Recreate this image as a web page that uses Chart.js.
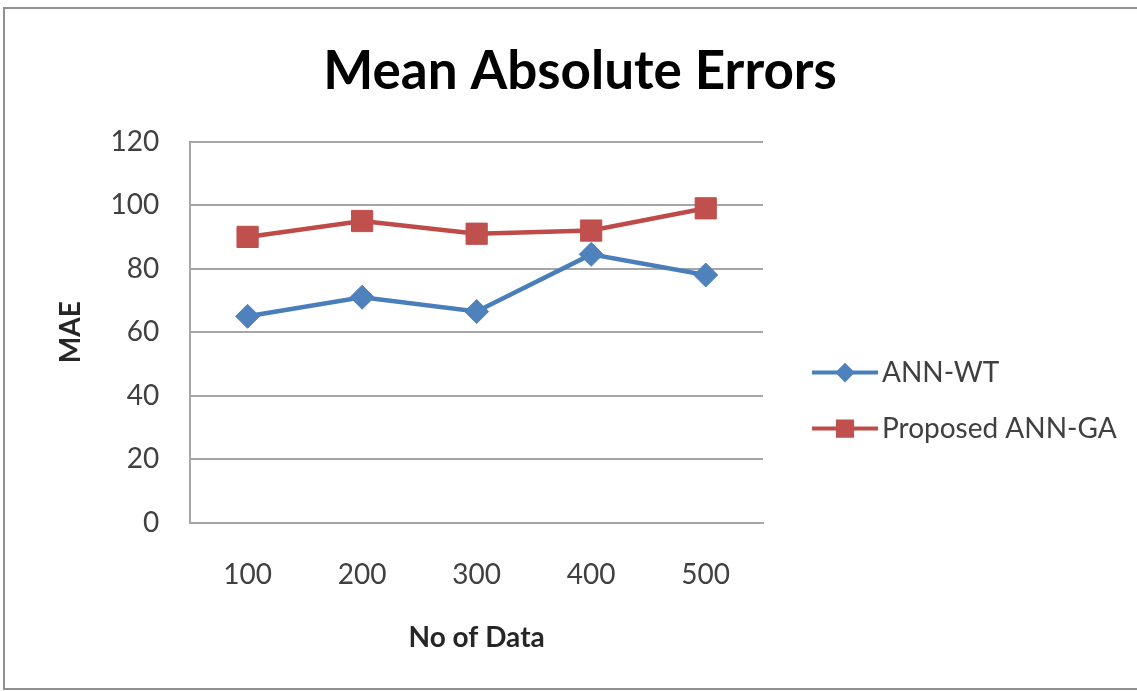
<!DOCTYPE html>
<html>
<head>
<meta charset="utf-8">
<script src="https://cdn.jsdelivr.net/npm/chart.js@4"></script>
<style>
  html, body { margin: 0; padding: 0; background: #fff; overflow: hidden; }
  #wrap { position: relative; width: 1137px; height: 691px; }
  #frame { position: absolute; left: 3px; top: 7px; width: 1200px; height: 679px; border: 2px solid #909090; }
  #grafico { position: absolute; left: 0; top: 0; }
</style>
</head>
<body>
<div id="wrap">
  <div id="frame"></div>
  <canvas id="grafico" width="1137" height="691"></canvas>
</div>
<script>
// Datos
const categorias = ['100', '200', '300', '400', '500'];
const annWT = [65, 71, 66.5, 84.5, 78];
const annGA = [90, 95, 91, 92, 99];
const yMin = 0;
const yMax = 120;
const yPaso = 20;

const azulLinea = '#4A7EBB';
const azulMarca = '#4F81BD';
const rojoLinea = '#BE4B48';
const rojoMarca = '#C0504D';
const textoGris = '#404040';

// Leyenda estilo Excel: línea con marcador chico en el centro
const leyendaExcel = {
    id: 'leyendaExcel',
    afterDraw(chart) {
        const ctx = chart.ctx;
        const area = chart.chartArea;
        const x0 = area.right + 49;
        const largo = 66;
        const filas = [area.top + 231, area.top + 287];
        const radios = [7, 10];
        ctx.save();
        chart.data.datasets.forEach((ds, i) => {
            const y = filas[i];
            ctx.strokeStyle = ds.borderColor;
            ctx.lineWidth = 4;
            ctx.beginPath();
            ctx.moveTo(x0, y);
            ctx.lineTo(x0 + largo, y);
            ctx.stroke();
            ctx.fillStyle = ds.pointBackgroundColor;
            ctx.strokeStyle = ds.pointBackgroundColor;
            Chart.helpers.drawPoint(ctx, {
                pointStyle: ds.pointStyle,
                radius: radios[i],
                borderWidth: 1,
                rotation: 0
            }, x0 + largo / 2, y);
            ctx.fillStyle = textoGris;
            ctx.font = '28px Lato';
            ctx.textAlign = 'left';
            ctx.textBaseline = 'middle';
            ctx.fillText(ds.label, x0 + largo + 4, y);
        });
        ctx.restore();
    }
};

let ctx = document.getElementById('grafico').getContext('2d');

let grafico = new Chart(ctx, {
    type: 'line',
    data: {
        labels: categorias,
        datasets: [{
                label: 'ANN-WT',
                data: annWT,
                borderWidth: 4.5,
                borderColor: azulLinea,
                pointStyle: 'rectRot',
                pointRadius: 12,
                pointBackgroundColor: azulMarca,
                pointBorderColor: azulMarca,
                pointBorderWidth: 1,
                tension: 0
            },
            {
                label: 'Proposed ANN-GA',
                data: annGA,
                borderWidth: 4.5,
                borderColor: rojoLinea,
                pointStyle: 'rect',
                pointRadius: 15,
                pointBackgroundColor: rojoMarca,
                pointBorderColor: rojoMarca,
                pointBorderWidth: 1,
                tension: 0
            }
        ]
    },
    plugins: [leyendaExcel],
    options: {
        responsive: false,
        animation: false,
        layout: {
            padding: { left: 23, right: 0, top: 0, bottom: 36 }
        },
        scales: {
            x: {
                offset: true,
                grid: { display: false, drawTicks: false },
                border: { display: true, color: '#a6a6a6', width: 2 },
                ticks: {
                    color: textoGris,
                    padding: 35,
                    font: { family: 'Lato', size: 28 }
                },
                title: {
                    display: true,
                    text: 'No of Data',
                    color: '#262626',
                    padding: { top: -5, bottom: 0 },
                    font: { family: 'Lato', size: 28, weight: 'bold' }
                }
            },
            y: {
                min: yMin,
                max: yMax,
                ticks: {
                    stepSize: yPaso,
                    color: textoGris,
                    padding: 31,
                    font: { family: 'Lato', size: 28 }
                },
                grid: { color: '#a6a6a6', lineWidth: 2, drawTicks: false },
                border: { display: true, color: '#a6a6a6', width: 2 },
                title: {
                    display: true,
                    text: 'MAE',
                    color: '#262626',
                    padding: { top: 31, bottom: -8 },
                    font: { family: 'Lato', size: 28, weight: 'bold' }
                }
            },
            // eje vacío a la derecha: reserva el lugar de la leyenda
            reserva: {
                type: 'linear',
                position: 'right',
                grid: { display: false, drawTicks: false },
                border: { display: false },
                ticks: { display: false },
                afterFit(escala) {
                    escala.width = 374;
                }
            }
        },
        plugins: {
            legend: { display: false },
            tooltip: { enabled: false },
            title: {
                display: true,
                text: 'Mean Absolute Errors',
                color: '#000',
                padding: { top: 40, bottom: 38 },
                font: { family: 'Lato', size: 53, weight: 'bold' }
            }
        }
    }
});
</script>
</body>
</html>
